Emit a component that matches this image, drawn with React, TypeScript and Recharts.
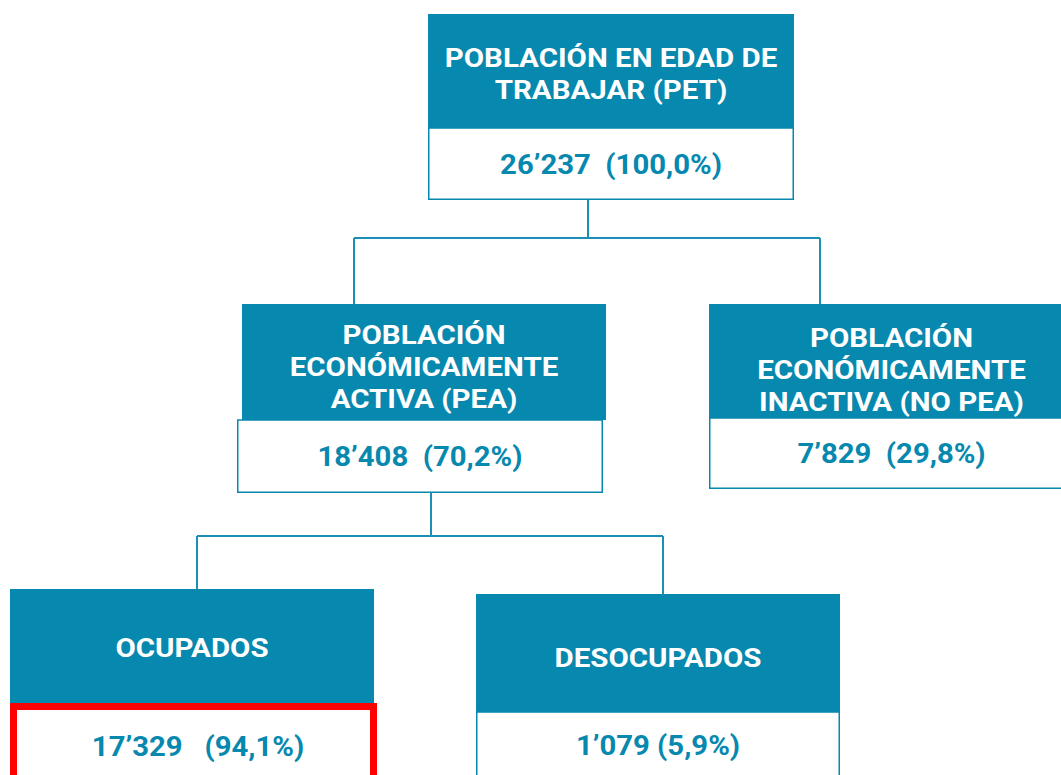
import {
  ReferenceArea,
  ReferenceLine,
  Scatter,
  ScatterChart,
  XAxis,
  YAxis,
} from "recharts";

// Lienzo en unidades de píxel (dominio de los ejes = tamaño del gráfico).
const W = 1061;
const H = 775;

const TEAL = "#0788ae";
const LINEA = "#1b8fb6";
const ROJO = "#ff0000";
const FUENTE = "Roboto, 'Noto Sans', sans-serif";

// Datos: estructura de la población (miles de personas)
const NODOS = ["PET", "PEA", "NOPEA", "OCU", "DESOCU"];
const TITULOS = [
  ["POBLACIÓN EN EDAD DE", "TRABAJAR (PET)"],
  ["POBLACIÓN", "ECONÓMICAMENTE", "ACTIVA (PEA)"],
  ["POBLACIÓN", "ECONÓMICAMENTE", "INACTIVA (NO PEA)"],
  ["OCUPADOS"],
  ["DESOCUPADOS"],
];
const MILES = [26237, 18408, 7829, 17329, 1079];
const PORCENTAJES = [100.0, 70.2, 29.8, 94.1, 5.9];

// Disposición de las cajas (x1, x2, cabecera [y1, y2], valor [y1, y2])
type Caja = {
  x: [number, number];
  vx?: [number, number];
  cab: [number, number];
  val: [number, number];
  dy: number;
  vdx?: number;
  gap: number;
  destacado?: boolean;
};
const CAJAS: Record<string, Caja> = {
  PET: { x: [428, 794], cab: [14, 128], val: [128, 200], dy: 3.5, gap: 2 },
  PEA: { x: [242, 606], vx: [237, 603], cab: [304, 420], val: [420, 493], dy: 5.5, gap: 2 },
  NOPEA: { x: [709, 1074], cab: [304, 418], val: [418, 489], dy: 8.7, gap: 2 },
  OCU: { x: [10, 374], vx: [10, 377], cab: [589, 703], val: [703, 789], dy: 2, vdx: 4.5, gap: 3, destacado: true },
  DESOCU: { x: [476, 840], cab: [594, 712], val: [712, 778], dy: 4.7, gap: 1 },
};

// Conectores: tronco del padre, altura del bus y x de cada hijo
const ENLACES = [
  { padre: "PET", tronco: 588, bus: 238, hijos: [["PEA", 354], ["NOPEA", 820]] as [string, number][] },
  { padre: "PEA", tronco: 431, bus: 536, hijos: [["OCU", 197], ["DESOCU", 663]] as [string, number][] },
];

// la imagen original está estirada en horizontal
const SX_CAB = 1.18;
const SX_VAL = 1.085;
const F_CAB = 25;
const F_VAL = 27;
const LH = 32;

function miles(n: number): string {
  if (n < 1000) return String(n);
  return `${Math.floor(n / 1000)}’${String(n % 1000).padStart(3, "0")}`;
}

function pct(p: number): string {
  return `(${p.toFixed(1).replace(".", ",")}%)`;
}

const puntosCab = NODOS.map((id, i) => {
  const c = CAJAS[id];
  return {
    x: (c.x[0] + c.x[1]) / 2,
    y: (c.cab[0] + c.cab[1]) / 2 + c.dy,
    lineas: TITULOS[i],
  };
});

const puntosVal = NODOS.map((id, i) => {
  const c = CAJAS[id];
  const vx = c.vx ?? c.x;
  return {
    x: (vx[0] + vx[1]) / 2 + (c.vdx ?? 0),
    y: (c.val[0] + c.val[1]) / 2,
    texto: miles(MILES[i]) + " ".repeat(c.gap) + pct(PORCENTAJES[i]),
  };
});

const segmentos: { x1: number; y1: number; x2: number; y2: number }[] = [];
ENLACES.forEach((e) => {
  const p = CAJAS[e.padre];
  const xs = e.hijos.map((h) => h[1]);
  segmentos.push({ x1: e.tronco, y1: p.val[1], x2: e.tronco, y2: e.bus });
  segmentos.push({ x1: Math.min(...xs), y1: e.bus, x2: Math.max(...xs), y2: e.bus });
  e.hijos.forEach(([id, x]) => {
    segmentos.push({ x1: x, y1: e.bus, x2: x, y2: CAJAS[id].cab[0] });
  });
});

function Titulo(props: any) {
  const { cx, cy, payload } = props;
  const lineas: string[] = payload.lineas;
  const n = lineas.length;
  const cap = F_CAB * 0.711;
  return (
    <g transform={`translate(${cx},${cy}) scale(${SX_CAB},1)`}>
      <text textAnchor="middle" fill="#ffffff" fontFamily={FUENTE} fontWeight={700} fontSize={F_CAB}>
        {lineas.map((l, i) => (
          <tspan key={i} x={0} y={(i - (n - 1) / 2) * LH + cap / 2}>
            {l}
          </tspan>
        ))}
      </text>
    </g>
  );
}

function Valor(props: any) {
  const { cx, cy, payload } = props;
  const cap = F_VAL * 0.711;
  return (
    <g transform={`translate(${cx},${cy}) scale(${SX_VAL},1)`}>
      <text
        x={0}
        y={cap / 2}
        textAnchor="middle"
        fill={TEAL}
        fontFamily={FUENTE}
        fontWeight={700}
        fontSize={F_VAL}
        style={{ whiteSpace: "pre" }}
      >
        {payload.texto}
      </text>
    </g>
  );
}

export default function App() {
  return (
    <div style={{ position: "absolute", left: 0, top: 0, background: "#fff" }}>
      <ScatterChart width={W} height={H} margin={{ top: 0, right: 0, bottom: 0, left: 0 }}>
        <XAxis type="number" dataKey="x" domain={[0, W]} allowDataOverflow hide />
        <YAxis type="number" dataKey="y" domain={[0, H]} allowDataOverflow reversed hide />
        {segmentos.map((s, i) => (
          <ReferenceLine
            key={`s${i}`}
            segment={[
              { x: s.x1, y: s.y1 },
              { x: s.x2, y: s.y2 },
            ]}
            stroke={LINEA}
            strokeWidth={2}
            ifOverflow="visible"
          />
        ))}
        {NODOS.map((id) => {
          const c = CAJAS[id];
          const vx = c.vx ?? c.x;
          return [
            <ReferenceArea
              key={`c${id}`}
              x1={c.x[0]}
              x2={c.x[1]}
              y1={c.cab[0]}
              y2={c.cab[1]}
              fill={TEAL}
              fillOpacity={1}
              stroke="none"
              ifOverflow="visible"
            />,
            c.destacado ? (
              <ReferenceArea
                key={`v${id}`}
                x1={vx[0] + 3.5}
                x2={vx[1] - 3.5}
                y1={c.val[0] + 3.5}
                y2={c.val[1]}
                fill="#ffffff"
                fillOpacity={1}
                stroke={ROJO}
                strokeWidth={7}
                ifOverflow="visible"
              />
            ) : (
              <ReferenceArea
                key={`v${id}`}
                x1={vx[0] + 0.75}
                x2={vx[1] - 0.75}
                y1={c.val[0]}
                y2={c.val[1] - 0.75}
                fill="#ffffff"
                fillOpacity={1}
                stroke={TEAL}
                strokeWidth={1.5}
                ifOverflow="visible"
              />
            ),
          ];
        })}
        <Scatter data={puntosCab} shape={Titulo} isAnimationActive={false} />
        <Scatter data={puntosVal} shape={Valor} isAnimationActive={false} />
      </ScatterChart>
    </div>
  );
}
